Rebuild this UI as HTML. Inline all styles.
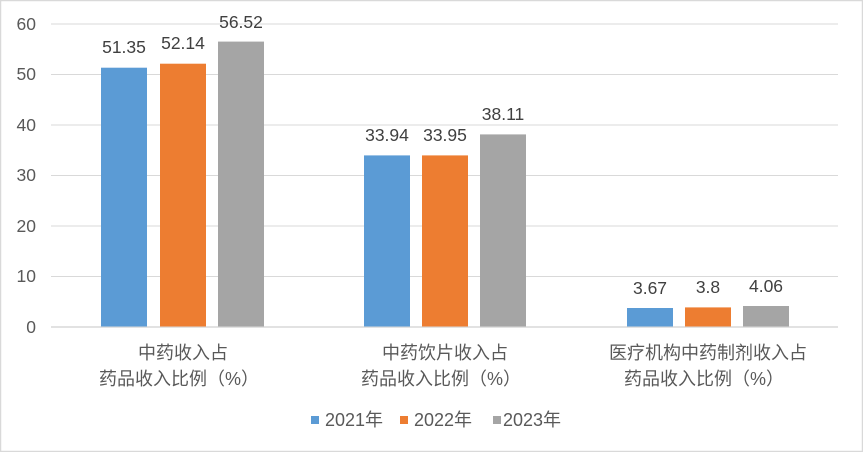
<!DOCTYPE html>
<html><head><meta charset="utf-8"><style>
body{margin:0;background:#fff}
text{font-family:"Liberation Sans","Noto Sans CJK SC",sans-serif;fill:#595959}
</style></head><body>
<svg width="863" height="452" xmlns="http://www.w3.org/2000/svg">
<rect x="0.5" y="0.5" width="862" height="451" fill="#fff" stroke="#d9d9d9" stroke-width="1.5"/>
<g stroke="#d9d9d9" stroke-width="1">
<line x1="51" x2="838" y1="24" y2="24"/><line x1="51" x2="838" y1="74.5" y2="74.5"/>
<line x1="51" x2="838" y1="125" y2="125"/><line x1="51" x2="838" y1="175.5" y2="175.5"/>
<line x1="51" x2="838" y1="226" y2="226"/><line x1="51" x2="838" y1="276.5" y2="276.5"/>
<line x1="51" x2="838" y1="327" y2="327" stroke-width="1.5"/>
</g>
<g font-size="17.5" text-anchor="end">
<text x="36" y="30">60</text><text x="36" y="80">50</text><text x="36" y="131">40</text>
<text x="36" y="181">30</text><text x="36" y="232">20</text><text x="36" y="282">10</text><text x="36" y="333">0</text>
</g>
<g>
<rect x="101" y="67.7" width="46" height="258.8" fill="#5b9bd5"/>
<rect x="160" y="63.7" width="46" height="262.8" fill="#ed7d31"/>
<rect x="218" y="41.6" width="46" height="284.9" fill="#a5a5a5"/>
<rect x="364" y="155.4" width="46" height="171.1" fill="#5b9bd5"/>
<rect x="422" y="155.4" width="46" height="171.1" fill="#ed7d31"/>
<rect x="480" y="134.4" width="46" height="192.1" fill="#a5a5a5"/>
<rect x="627" y="308" width="46" height="18.5" fill="#5b9bd5"/>
<rect x="685" y="307.4" width="46" height="19.1" fill="#ed7d31"/>
<rect x="743" y="306" width="46" height="20.5" fill="#a5a5a5"/>
</g>
<g font-size="17.5" text-anchor="middle">
<text x="124" y="53" style="fill:#404040">51.35</text><text x="183" y="49" style="fill:#404040">52.14</text><text x="241" y="28" style="fill:#404040">56.52</text>
<text x="387" y="141" style="fill:#404040">33.94</text><text x="445" y="141" style="fill:#404040">33.95</text><text x="503" y="120" style="fill:#404040">38.11</text>
<text x="650" y="294" style="fill:#404040">3.67</text><text x="708" y="293" style="fill:#404040">3.8</text><text x="766" y="292" style="fill:#404040">4.06</text>
</g>
<g font-size="18" text-anchor="middle">
<text x="183" y="359">中药收入占</text><text x="179" y="385">药品收入比例（%）</text>
<text x="445" y="359">中药饮片收入占</text><text x="441" y="385">药品收入比例（%）</text>
<text x="708" y="359">医疗机构中药制剂收入占</text><text x="704" y="385">药品收入比例（%）</text>
</g>
<rect x="311" y="416" width="8" height="8" fill="#5b9bd5"/>
<text x="325" y="426" font-size="18">2021年</text>
<rect x="400" y="416" width="8" height="8" fill="#ed7d31"/>
<text x="414" y="426" font-size="18">2022年</text>
<rect x="493" y="416" width="8" height="8" fill="#a5a5a5"/>
<text x="503" y="426" font-size="18">2023年</text>
</svg>
</body></html>
